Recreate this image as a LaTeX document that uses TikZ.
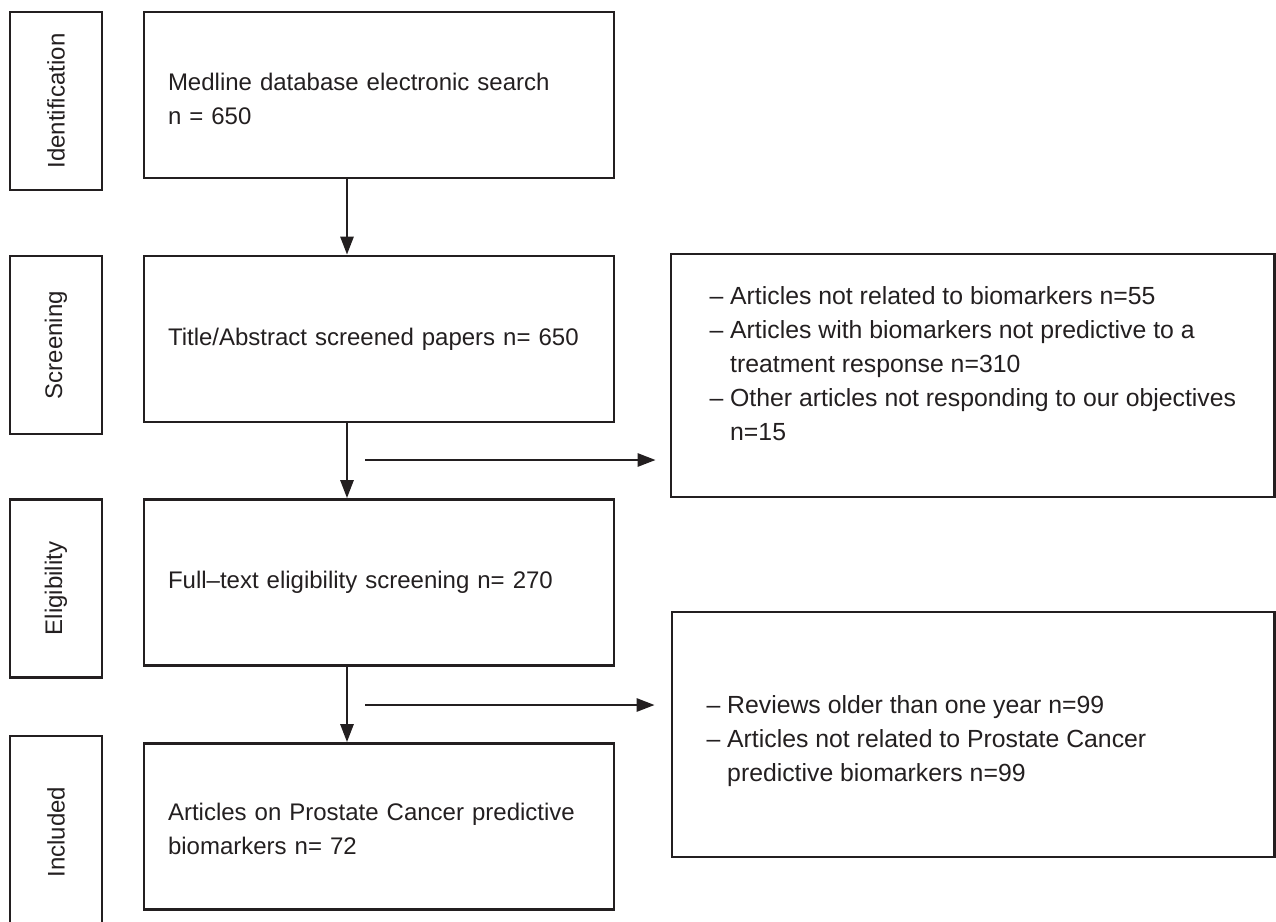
\documentclass[tikz,border=0pt]{standalone}
\usepackage{fontspec}
\setmainfont{Liberation Sans}
\usetikzlibrary{arrows.meta}
\definecolor{ink}{HTML}{231F20}
\begin{document}
\begin{tikzpicture}[x=1pt,y=-1pt,
  every node/.style={font=\fontsize{24}{34}\selectfont, text=ink},
  lbl/.style={draw=ink, line width=2.7pt, rotate=90, minimum width=178pt, minimum height=92pt, inner sep=0pt},
  mainbox/.style={draw=ink, line width=2.7pt, minimum height=166pt, text width=422pt, inner xsep=24pt, inner ysep=0pt, align=left},
  exbox/.style={draw=ink, line width=2.7pt, inner sep=0pt},
  extext/.style={anchor=west, align=left, inner sep=0pt, font=\fontsize{24.8}{34}\selectfont},
  arr/.style={draw=ink, line width=2.7pt, -{Triangle[length=18pt,width=13pt]}},
]
\useasboundingbox (0,0) rectangle (1276,921);
\clip (0,0) rectangle (1276,921);

% stage labels
\node[lbl] (lid) at (56,101) {Identification};
\node[lbl] (lsc) at (56,345) {Screening};
\node[lbl] (lel) at (56,588.5) {Eligibility};
\node[lbl, minimum width=192pt] (lin) at (56,832) {Included};

% main boxes
\node[mainbox] (id) at (379,95) {\rule{0pt}{26pt}Medline database electronic search\\n = 650};
\node[mainbox] (sc) at (379,339) {Title/Abstract screened papers n= 650};
\node[mainbox] (el) at (379,582.5) {Full–text eligibility screening n= 270};
\node[mainbox] (in) at (379,826.5) {\rule{0pt}{22pt}Articles on Prostate Cancer predictive\\biomarkers n= 72};

% exclusion boxes
\node[exbox, minimum width=603.5pt, minimum height=243pt] (ex1) at (972.75,375.5) {};
\node[exbox, minimum width=602.5pt, minimum height=245pt] (ex2) at (973.25,734.5) {};
\node[extext] (t1) at (730,364) {\llap{– }Articles not related to biomarkers n=55\\
\llap{– }Articles with biomarkers not predictive to a\\
treatment response n=310\\
\llap{– }Other articles not responding to our objectives\\
n=15};
\node[extext] (t2) at (727,741) {\llap{– }Reviews older than one year n=99\\
\llap{– }Articles not related to Prostate Cancer\\
predictive biomarkers n=99};

% connectors
\coordinate (ax) at (347,0);
\coordinate (h1) at (365,460);
\coordinate (h2) at (365,705);
\draw[arr] (id.south -| ax) -- (sc.north -| ax);
\draw[arr] (sc.south -| ax) -- (el.north -| ax);
\draw[arr] (el.south -| ax) -- (in.north -| ax);
\draw[arr] (h1) -- ([xshift=-14pt]ex1.west |- h1);
\draw[arr] (h2) -- ([xshift=-16pt]ex2.west |- h2);
\end{tikzpicture}
\end{document}
